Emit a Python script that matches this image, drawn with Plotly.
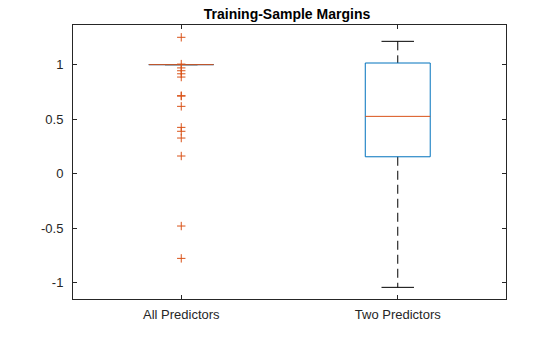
import plotly.graph_objects as go

categories = ["All Predictors", "Two Predictors"]
q1 = [1.0, 0.154]
median = [1.0, 0.525]
q3 = [1.0, 1.015]
lower_whisker = [1.0, -1.045]
upper_whisker = [1.0, 1.214]
outliers_all = [1.251, 1.005, 0.97, 0.944, 0.916, 0.886, 0.715, 0.711, 0.617,
                0.424, 0.388, 0.326, 0.161, -0.482, -0.779]
outliers_two = []
outliers = [outliers_all, outliers_two]

BLUE = "#0072BD"
RED = "#D95319"
INK = "#262626"
BOX_HW = 0.15
CAP_HW = 0.075

fig = go.Figure()
for i, name in enumerate(categories):
    x = i + 1
    # whiskers (dashed)
    fig.add_trace(go.Scatter(x=[x, x], y=[upper_whisker[i], q3[i]], mode="lines",
                             line=dict(color="black", width=1, dash="9px,5px"),
                             showlegend=False, hoverinfo="skip"))
    fig.add_trace(go.Scatter(x=[x, x], y=[q1[i], lower_whisker[i]], mode="lines",
                             line=dict(color="black", width=1, dash="9px,5px"),
                             showlegend=False, hoverinfo="skip"))
    # caps
    fig.add_trace(go.Scatter(x=[x - CAP_HW, x + CAP_HW, None, x - CAP_HW, x + CAP_HW],
                             y=[upper_whisker[i], upper_whisker[i], None,
                                lower_whisker[i], lower_whisker[i]],
                             mode="lines", line=dict(color="black", width=1),
                             showlegend=False, hoverinfo="skip"))
    # box
    fig.add_trace(go.Scatter(x=[x - BOX_HW, x + BOX_HW, x + BOX_HW, x - BOX_HW, x - BOX_HW],
                             y=[q1[i], q1[i], q3[i], q3[i], q1[i]],
                             mode="lines", line=dict(color=BLUE, width=1),
                             showlegend=False, hoverinfo="skip"))
    # median
    fig.add_trace(go.Scatter(x=[x - BOX_HW, x + BOX_HW], y=[median[i], median[i]],
                             mode="lines", line=dict(color=RED, width=1),
                             showlegend=False, hoverinfo="skip"))
    # outliers
    if outliers[i]:
        fig.add_trace(go.Scatter(x=[x] * len(outliers[i]), y=outliers[i], mode="markers",
                                 marker=dict(symbol="cross-thin", size=6,
                                             line=dict(color=RED, width=1)),
                                 showlegend=False, hoverinfo="skip"))

fig.update_layout(
    width=560, height=337,
    margin=dict(l=73, r=54, t=25, b=38),
    paper_bgcolor="white", plot_bgcolor="white",
    font=dict(family="Liberation Sans, Arial, sans-serif", size=13, color=INK),
    title=dict(text="<b>Training-Sample Margins</b>", x=0.5125, xanchor="center",
               y=0.958, yanchor="middle", yref="container",
               font=dict(family="Liberation Sans, Arial, sans-serif", size=14, color="black")),
)
fig.update_xaxes(range=[0.5, 2.5], tickvals=[1, 2], ticktext=categories,
                 showgrid=False, zeroline=False, showline=True, linecolor=INK,
                 linewidth=1, mirror="ticks", ticks="inside", ticklen=4,
                 tickcolor=INK, tickfont=dict(size=13, color=INK),
                 ticklabelstandoff=3)
fig.update_yaxes(range=[-1.152, 1.364], tickvals=[-1, -0.5, 0, 0.5, 1],
                 ticktext=["-1", "-0.5", "0", "0.5", "1"],
                 showgrid=False, zeroline=False, showline=True, linecolor=INK,
                 linewidth=1, mirror="ticks", ticks="inside", ticklen=4,
                 tickcolor=INK, tickfont=dict(size=13, color=INK),
                 ticklabelstandoff=6)

fig.write_html("out.html")
